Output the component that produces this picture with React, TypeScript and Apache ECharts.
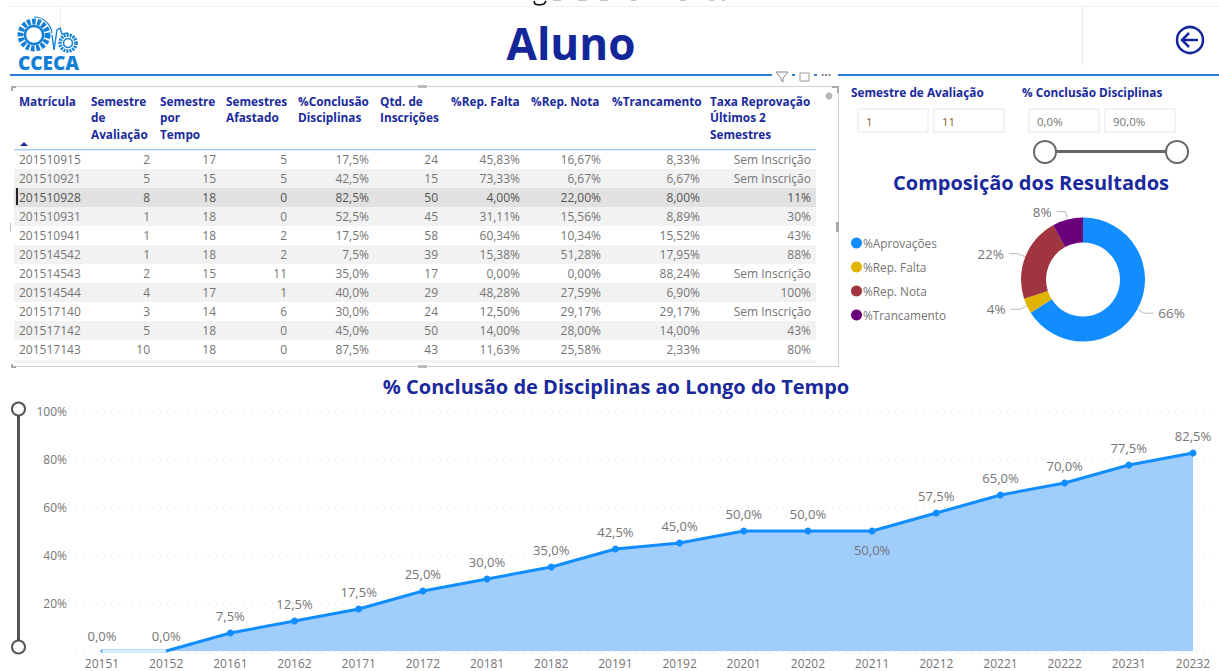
import React, { useEffect, useRef } from "react";
import * as echarts from "echarts";

const tableHeaders = [
  ["Matrícula"],
  ["Semestre", "de", "Avaliação"],
  ["Semestre", "por", "Tempo"],
  ["Semestres", "Afastado"],
  ["%Conclusão", "Disciplinas"],
  ["Qtd. de", "Inscrições"],
  ["%Rep. Falta"],
  ["%Rep. Nota"],
  ["%Trancamento"],
  ["Taxa Reprovação", "Últimos 2", "Semestres"],
];
const tableRows = [
  ["201510915", "2", "17", "5", "17,5%", "24", "45,83%", "16,67%", "8,33%", "Sem Inscrição"],
  ["201510921", "5", "15", "5", "42,5%", "15", "73,33%", "6,67%", "6,67%", "Sem Inscrição"],
  ["201510928", "8", "18", "0", "82,5%", "50", "4,00%", "22,00%", "8,00%", "11%"],
  ["201510931", "1", "18", "0", "52,5%", "45", "31,11%", "15,56%", "8,89%", "30%"],
  ["201510941", "1", "18", "2", "17,5%", "58", "60,34%", "10,34%", "15,52%", "43%"],
  ["201514542", "1", "18", "2", "7,5%", "39", "15,38%", "51,28%", "17,95%", "88%"],
  ["201514543", "2", "15", "11", "35,0%", "17", "0,00%", "0,00%", "88,24%", "Sem Inscrição"],
  ["201514544", "4", "17", "1", "40,0%", "29", "48,28%", "27,59%", "6,90%", "100%"],
  ["201517140", "3", "14", "6", "30,0%", "24", "12,50%", "29,17%", "29,17%", "Sem Inscrição"],
  ["201517142", "5", "18", "0", "45,0%", "50", "14,00%", "28,00%", "14,00%", "43%"],
  ["201517143", "10", "18", "0", "87,5%", "43", "11,63%", "25,58%", "2,33%", "80%"],
];
const semesters = ["20151","20152","20161","20162","20171","20172","20181","20182","20191","20192","20201","20202","20211","20212","20221","20222","20231","20232"];
const conclusion = [0, 0, 7.5, 12.5, 17.5, 25, 30, 35, 42.5, 45, 50, 50, 50, 57.5, 65, 70, 77.5, 82.5];
const donutNames = ["%Aprovações", "%Rep. Falta", "%Rep. Nota", "%Trancamento"];
const donutValues = [66, 4, 22, 8];
const donutColors = ["#118DFF", "#E0B400", "#A0343F", "#6B007B"];

const FONT = '"Open Sans", "Noto Sans", sans-serif';
const NARROW = '"Liberation Sans Narrow", "Open Sans", sans-serif';
const NAVY = "#1a2a9c";
const GREY = "#757575";
const LOGO = "#1480d6";

const headerX = [19, 91, 160, 226, 298, 380, 451, 531, 612, 710];
const cellRight = [80, 150, 216, 287, 369, 438, 520, 601, 700, 811];

function buildGraphics() {
  const g: any[] = [];
  const txt = (x: number, y: number, text: string, fill: string, size: number, weight: any = 400, align = "left", font = FONT) =>
    g.push({ type: "text", x, y, silent: true, style: { text, fill, fontSize: size, fontWeight: weight, fontFamily: font, textAlign: align, textVerticalAlign: "middle" } });
  const rect = (x: number, y: number, w: number, h: number, fill: string) =>
    g.push({ type: "rect", shape: { x, y, width: w, height: h }, silent: true, style: { fill } });

  // fragments of the caption cropped by the top edge (its words are not legible)
  g.push({ type: "polyline", shape: { points: [[534, 1], [535, 4], [539, 5], [544, 4], [546, 1]] }, silent: true, style: { fill: "none", stroke: "#111", lineWidth: 1.6 } });
  [[553, 8], [578, 9], [600, 8], [631, 5], [680, 6], [709, 5], [722, 3]].forEach(([x, w]) => rect(x, 0, w, 1, "#c4c4c4"));

  rect(10, 6, 1209, 1, "#f0f0f0");
  rect(60, 7, 1, 30, "#eeeeee");
  rect(1082, 7, 1, 58, "#eaeaea");
  txt(571, 43, "Aluno", "#13279b", 44, 700, "center");
  rect(10, 74, 762, 2, "#2a7fd0");
  rect(792, 74, 3, 2, "#2a7fd0");
  rect(814, 74, 3, 2, "#2a7fd0");
  rect(838, 74, 381, 2, "#2a7fd0");

  // logo
  g.push({ type: "circle", shape: { cx: 34, cy: 35, r: 13.5 }, silent: true, style: { fill: "none", stroke: LOGO, lineWidth: 6, lineDash: [3.5, 1.6] } });
  g.push({ type: "circle", shape: { cx: 34, cy: 35, r: 9 }, silent: true, style: { fill: "#fff", stroke: LOGO, lineWidth: 2.5 } });
  g.push({ type: "arc", shape: { cx: 34, cy: 35, r: 18, startAngle: -Math.PI / 2, endAngle: -0.1 }, silent: true, style: { fill: "none", stroke: LOGO, lineWidth: 1.2 } });
  g.push({ type: "circle", shape: { cx: 68, cy: 43, r: 8 }, silent: true, style: { fill: "none", stroke: LOGO, lineWidth: 3.5, lineDash: [2, 1] } });
  g.push({ type: "circle", shape: { cx: 68, cy: 43, r: 4.5 }, silent: true, style: { fill: "#fff", stroke: LOGO, lineWidth: 1.5 } });
  g.push({ type: "polyline", shape: { points: [[52, 35], [54, 50], [57, 30], [60, 28], [62, 34], [68, 33]] }, silent: true, style: { fill: "none", stroke: LOGO, lineWidth: 1.4 } });
  txt(48.5, 63, "CCECA", LOGO, 19, 800, "center");

  // back arrow
  g.push({ type: "circle", shape: { cx: 1190, cy: 40, r: 13 }, silent: true, style: { fill: "none", stroke: "#13279b", lineWidth: 2.5 } });
  g.push({ type: "line", shape: { x1: 1182, y1: 40, x2: 1198, y2: 40 }, silent: true, style: { stroke: "#13279b", lineWidth: 2.5 } });
  g.push({ type: "polyline", shape: { points: [[1189, 33], [1182, 40], [1189, 47]] }, silent: true, style: { fill: "none", stroke: "#13279b", lineWidth: 2.5 } });

  // table frame
  rect(12, 86, 827, 1, "#cfcfcf");
  rect(12, 366, 827, 1, "#cfcfcf");
  rect(838, 86, 1, 281, "#cfcfcf");
  rect(418, 85, 9, 3, "#bdbdbd");
  rect(418, 365, 9, 3, "#bdbdbd");
  rect(11, 86, 5, 2, "#aaa");
  rect(11, 86, 2, 5, "#aaa");
  rect(11, 364, 2, 4, "#aaa");
  rect(11, 366, 5, 2, "#aaa");
  rect(832, 86, 7, 2, "#aaa");
  rect(837, 86, 2, 7, "#aaa");
  rect(10, 223, 1, 9, "#bbb");
  rect(836, 222, 3, 10, "#aaa");
  g.push({ type: "circle", shape: { cx: 829, cy: 96, r: 3.5 }, silent: true, style: { fill: "#b5b5b5" } });

  // visual header icons
  g.push({ type: "polyline", shape: { points: [[776, 72], [788, 72], [783, 78], [783, 82], [781, 80], [781, 78], [776, 72]] }, silent: true, style: { fill: "none", stroke: "#888", lineWidth: 1 } });
  g.push({ type: "rect", shape: { x: 800, y: 73, width: 9, height: 8 }, silent: true, style: { fill: "none", stroke: "#999", lineWidth: 1 } });
  txt(826, 74, "···", "#777", 12, 700, "center");

  // table header
  tableHeaders.forEach((lines, c) => {
    lines.forEach((line, i) => txt(headerX[c], 100.5 + i * 16.5, line, NAVY, 11.8, 700));
  });
  g.push({ type: "polygon", shape: { points: [[20, 146], [28, 146], [24, 142]] }, silent: true, style: { fill: NAVY } });
  rect(14, 149, 802, 1.5, "#a9cdf3");

  // table rows
  const rowTop = 150, rowH = 19;
  tableRows.forEach((row, r) => {
    const y = rowTop + r * rowH;
    if (r === 2) rect(14, y, 802, rowH, "#e1e1e1");
    else if (r % 2 === 1) rect(14, y, 802, rowH, "#f2f2f2");
    row.forEach((cell, c) => {
      const color = r === 2 ? "#555" : GREY;
      if (c === 0) txt(19, y + 9.5, cell, color, 12);
      else txt(cellRight[c], y + 9.5, cell, color, 12, 400, "right");
    });
  });
  rect(16, 188, 2, 17, "#222");
  rect(14, 360, 802, 3, "#f4f4f4");

  // slicers
  txt(851, 92, "Semestre de Avaliação", NAVY, 11.8, 700);
  txt(1022, 92, "% Conclusão Disciplinas", NAVY, 11.8, 700);
  [[858, "1", "#8a5a2b"], [934, "11", "#8a5a2b"], [1029, "0,0%", GREY], [1105, "90,0%", GREY]].forEach(([x, t, col]: any) => {
    g.push({ type: "rect", shape: { x, y: 109, width: 70, height: 23 }, silent: true, style: { fill: "#fff", stroke: "#efefef", lineWidth: 1.5 } });
    txt(x + 8, 121, t, col, 11.5);
  });
  rect(1056, 150, 110, 3, "#666");
  [1045, 1177].forEach((cx) =>
    g.push({ type: "circle", shape: { cx, cy: 152, r: 11 }, silent: true, style: { fill: "#fff", stroke: "#666", lineWidth: 2 } }),
  );

  // titles
  txt(1031, 182, "Composição dos Resultados", NAVY, 20, 700, "center", NARROW);
  txt(616, 386, "% Conclusão de Disciplinas ao Longo do Tempo", NAVY, 20, 700, "center", NARROW);

  // vertical range slider
  rect(17, 415, 3, 226, "#555");
  [409, 647].forEach((cy) =>
    g.push({ type: "circle", shape: { cx: 18.5, cy, r: 6.5 }, silent: true, style: { fill: "#fff", stroke: "#555", lineWidth: 2 } }),
  );
  return g;
}

export default function App() {
  const ref = useRef<HTMLDivElement>(null);
  useEffect(() => {
    const chart = echarts.init(ref.current!, undefined, { renderer: "svg" });
    chart.setOption({
      animation: false,
      textStyle: { fontFamily: FONT },
      legend: {
        orient: "vertical",
        left: 846,
        top: 232,
        itemGap: 12,
        itemWidth: 11,
        itemHeight: 11,
        icon: "circle",
        selectedMode: false,
        textStyle: { color: GREY, fontSize: 11.8, fontFamily: FONT, padding: [0, 0, 0, -4] },
        data: donutNames,
      },
      grid: [
        { left: 102, right: 26, top: 411, bottom: 20 },
        { left: 76, right: 3, top: 411, bottom: 20 },
      ],
      xAxis: [
        {
          type: "category",
          gridIndex: 0,
          boundaryGap: false,
          data: semesters,
          axisLine: { show: false },
          axisTick: { show: false },
          axisLabel: { color: GREY, fontSize: 12, margin: 6, fontFamily: FONT },
        },
        { type: "value", gridIndex: 1, min: 0, max: 1, show: false },
      ],
      yAxis: [
        { type: "value", gridIndex: 0, min: 0, max: 100, interval: 20, show: false },
        {
          type: "value",
          gridIndex: 1,
          min: 0,
          max: 100,
          interval: 20,
          axisLine: { show: false },
          axisTick: { show: false },
          axisLabel: {
            color: GREY,
            fontSize: 12,
            margin: 9,
            fontFamily: FONT,
            formatter: (v: number) => (v === 0 ? "" : v + "%"),
          },
          splitLine: { lineStyle: { color: "#d8d8d8", type: [1, 6], width: 1 } },
        },
      ],
      series: [
        {
          type: "line",
          xAxisIndex: 0,
          yAxisIndex: 0,
          data: conclusion.map((value) => (value === 0 ? { value, symbolSize: 3 } : value)),
          symbol: "circle",
          symbolSize: 7,
          lineStyle: { color: "#118DFF", width: 3 },
          itemStyle: { color: "#118DFF" },
          areaStyle: { color: "#9fcefd", opacity: 1 },
          label: {
            show: true,
            position: "top",
            distance: 7,
            color: GREY,
            fontSize: 13,
            fontFamily: FONT,
            formatter: (p: any) => Number(p.value).toFixed(1).replace(".", ",") + "%",
          },
          labelLayout: (p: any) => (p.dataIndex === 12 ? { dy: 36 } : {}),
          z: 3,
        },
        {
          type: "line",
          xAxisIndex: 0,
          yAxisIndex: 0,
          data: conclusion.slice(0, 2),
          symbol: "none",
          silent: true,
          lineStyle: { color: "#dcefff", width: 3 },
          z: 4,
        },
        {
          type: "pie",
          center: [1083, 279.5],
          radius: [37, 62],
          startAngle: 90,
          data: donutNames.map((name, i) => ({ name, value: donutValues[i], itemStyle: { color: donutColors[i] } })),
          label: {
            color: GREY,
            fontSize: 13.5,
            fontFamily: FONT,
            formatter: (p: any) => p.value + "%",
          },
          labelLine: { length: 8, length2: 9, lineStyle: { color: "#bbb", width: 1 } },
          silent: true,
        },
      ],
      graphic: { elements: buildGraphics() },
    });
    return () => chart.dispose();
  }, []);
  return <div ref={ref} style={{ position: "fixed", left: 0, top: 0, width: 1219, height: 671, background: "#fff" }} />;
}
